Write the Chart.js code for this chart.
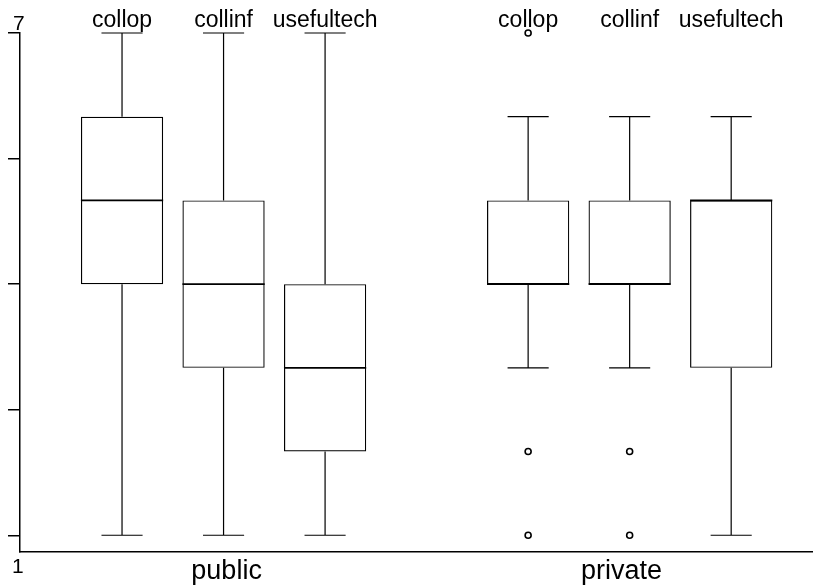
<!DOCTYPE html>
<html>
<head>
<meta charset="utf-8">
<script src="https://cdn.jsdelivr.net/npm/chart.js@4"></script>
<style>
  html, body { margin: 0; padding: 0; background: #fff; }
  #wrap { width: 818px; height: 587px; }
</style>
</head>
<body>
<div id="wrap"><canvas id="c" width="818" height="587"></canvas></div>
<script>
// Box plot of three ratings (1-7 scale) by sector
const positions   = [1, 2, 3, 5, 6, 7];
const varLabels   = ['collop', 'collinf', 'usefultech', 'collop', 'collinf', 'usefultech'];
const groupLabels = ['public', 'private'];
const groupCenters = [2.03, 5.92];

const whiskerLow  = [1, 1, 1, 3, 3, 1];
const q1          = [4, 3, 2, 4, 4, 3];
const median      = [5, 4, 3, 4, 4, 5];
const q3          = [6, 5, 4, 5, 5, 5];
const whiskerHigh = [7, 7, 7, 6, 6, 6];

const outlierX = [5, 5, 5, 6, 6];
const outlierY = [7, 2, 1, 2, 1];

const yTicks = [1, 2.5, 4, 5.5, 7];
const yEndLabels = ['7', '1'];

const FONT = '"Liberation Sans", Arial, Helvetica, sans-serif';

// whiskers, caps and median lines drawn over the box bars
const boxExtras = {
  id: 'boxExtras',
  afterDatasetsDraw(chart) {
    const ctx = chart.ctx;
    const y = chart.scales.y;
    const meta = chart.getDatasetMeta(0);
    ctx.save();
    ctx.strokeStyle = '#000';
    meta.data.forEach((bar, i) => {
      const cx = bar.x;
      const half = bar.width / 2;
      const capHalf = bar.width / 4;
      const yLo = y.getPixelForValue(whiskerLow[i]);
      const yHi = y.getPixelForValue(whiskerHigh[i]);
      const yQ1 = y.getPixelForValue(q1[i]);
      const yQ3 = y.getPixelForValue(q3[i]);
      const yMed = y.getPixelForValue(median[i]);
      ctx.lineWidth = 1.2;
      ctx.beginPath();
      ctx.moveTo(cx, yQ3); ctx.lineTo(cx, yHi);
      ctx.moveTo(cx - capHalf, yHi); ctx.lineTo(cx + capHalf, yHi);
      ctx.moveTo(cx, yQ1); ctx.lineTo(cx, yLo);
      ctx.moveTo(cx - capHalf, yLo); ctx.lineTo(cx + capHalf, yLo);
      ctx.stroke();
      ctx.lineWidth = 1.6;
      ctx.beginPath();
      ctx.moveTo(cx - half, yMed); ctx.lineTo(cx + half, yMed);
      ctx.stroke();
    });
    ctx.restore();
  }
};

// variable names along the top, sector names along the bottom, axis end values
const textLabels = {
  id: 'textLabels',
  afterDraw(chart) {
    const ctx = chart.ctx;
    const x = chart.scales.x;
    const y = chart.scales.y;
    const area = chart.chartArea;
    ctx.save();
    ctx.fillStyle = '#000';
    ctx.textBaseline = 'alphabetic';
    ctx.textAlign = 'center';
    ctx.font = '23px ' + FONT;
    positions.forEach((p, i) => {
      ctx.fillText(varLabels[i], x.getPixelForValue(p), area.top - 6);
    });
    ctx.font = '27px ' + FONT;
    groupCenters.forEach((p, i) => {
      ctx.fillText(groupLabels[i], x.getPixelForValue(p), area.bottom + 27);
    });
    ctx.font = '21px ' + FONT;
    ctx.textAlign = 'left';
    ctx.fillText(yEndLabels[0], 13, y.getPixelForValue(7) - 3);
    ctx.fillText(yEndLabels[1], 12, area.bottom + 21);
    ctx.restore();
  }
};

new Chart(document.getElementById('c'), {
  type: 'bar',
  data: {
    datasets: [
      {
        type: 'bar',
        data: positions.map((p, i) => ({ x: p, y: [q1[i], q3[i]] })),
        backgroundColor: 'rgba(255,255,255,0)',
        borderColor: '#000',
        borderWidth: 1.2,
        borderSkipped: false,
        barPercentage: 0.81,
        categoryPercentage: 1.0
      },
      {
        type: 'scatter',
        data: outlierX.map((v, i) => ({ x: v, y: outlierY[i] })),
        clip: false,
        pointRadius: 3,
        pointBorderWidth: 1.6,
        pointBackgroundColor: '#fff',
        pointBorderColor: '#000'
      }
    ]
  },
  options: {
    responsive: false,
    animation: false,
    layout: { padding: { top: 33, left: 8, right: 0, bottom: 35 } },
    plugins: { legend: { display: false }, tooltip: { enabled: false } },
    scales: {
      x: {
        type: 'linear',
        min: -0.005,
        max: 7.8,
        offset: false,
        afterBuildTicks: (axis) => { axis.ticks = positions.map(v => ({ value: v })); },
        ticks: { display: false },
        grid: { display: false, drawTicks: false },
        border: { display: true, color: '#000', width: 1.5 }
      },
      y: {
        type: 'linear',
        min: 0.8,
        max: 7,
        afterBuildTicks: (axis) => { axis.ticks = yTicks.map(v => ({ value: v })); },
        ticks: { display: false },
        grid: { drawOnChartArea: false, drawTicks: true, tickLength: 12, color: '#000', lineWidth: 1.5 },
        border: { display: true, color: '#000', width: 1.5 }
      }
    }
  },
  plugins: [boxExtras, textLabels]
});
</script>
</body>
</html>
